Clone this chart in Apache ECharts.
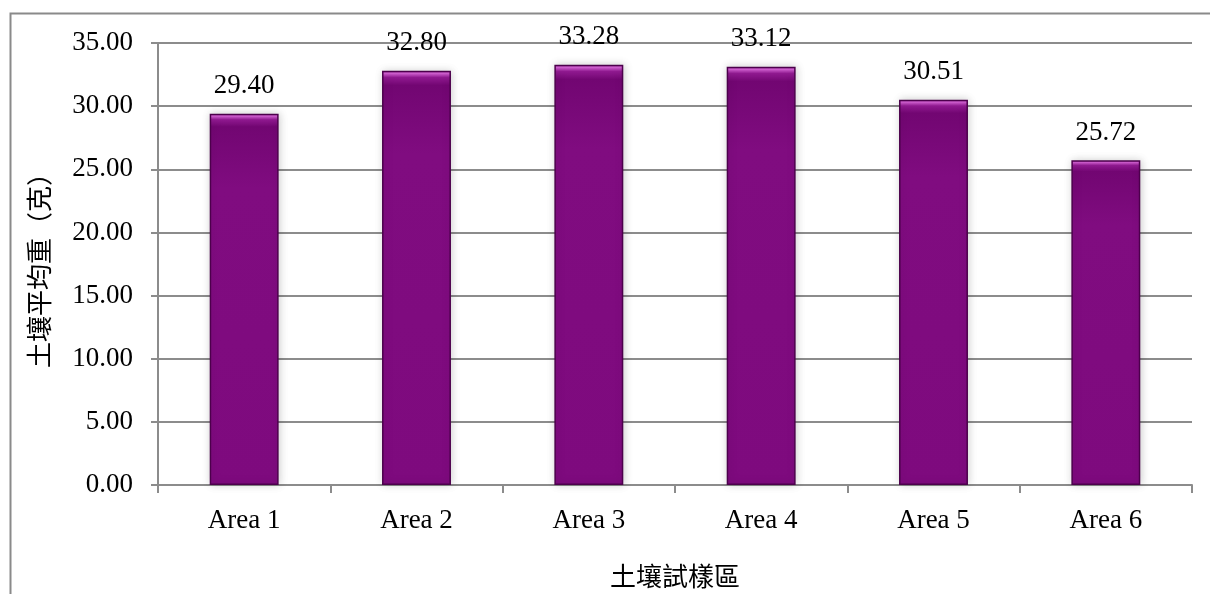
<!DOCTYPE html>
<html>
<head>
<meta charset="utf-8">
<script src="https://cdn.jsdelivr.net/npm/echarts@6/dist/echarts.min.js"></script>
<style>
  html, body { margin: 0; padding: 0; background: #fff; }
  #chart { width: 1210px; height: 594px; }
</style>
</head>
<body>
<div id="chart"></div>
<script>
// Average soil weight per sampling area
const categories = ['Area 1', 'Area 2', 'Area 3', 'Area 4', 'Area 5', 'Area 6'];
const avgWeight = [29.40, 32.80, 33.28, 33.12, 30.51, 25.72];
const yAxisTitle = '土壤平均重（克）';
const xAxisTitle = '土壤試樣區';

const latin = '"Liberation Serif", "DejaVu Serif", serif';
const cjk = '"Noto Sans CJK TC", "Noto Sans CJK SC", sans-serif';
const lineGray = '#8c8c8c';

const chart = echarts.init(document.getElementById('chart'), null, { renderer: 'canvas' });

const barFill = new echarts.graphic.LinearGradient(0, 0, 0, 1, [
  { offset: 0, color: '#a033a0' },
  { offset: 0.006, color: '#d462d4' },
  { offset: 0.016, color: '#911a91' },
  { offset: 0.035, color: '#720672' },
  { offset: 0.2, color: '#800c80' },
  { offset: 1, color: '#7e0a7e' }
]);

chart.setOption({
  animation: false,
  backgroundColor: '#fff',
  graphic: [{
    type: 'rect',
    left: 8, top: 11,
    shape: { width: 1500, height: 900 },
    style: { fill: 'none', stroke: '#8a8a8a', lineWidth: 2 },
    z: 0
  }],
  grid: { left: 158, right: 18, top: 43, bottom: 105, containLabel: false },
  xAxis: {
    type: 'category',
    data: categories,
    name: xAxisTitle,
    nameLocation: 'middle',
    nameGap: 78,
    nameTextStyle: { fontFamily: cjk, fontSize: 26, color: '#000' },
    axisLine: { lineStyle: { color: lineGray, width: 2 } },
    axisTick: { show: true, length: 8, alignWithLabel: false, lineStyle: { color: lineGray, width: 2 } },
    axisLabel: { fontFamily: latin, fontSize: 27, color: '#000', margin: 22 }
  },
  yAxis: {
    type: 'value',
    min: 0, max: 35, interval: 5,
    name: yAxisTitle,
    nameLocation: 'middle',
    nameGap: 106,
    nameRotate: 90,
    nameTextStyle: { fontFamily: cjk, fontSize: 26, color: '#000' },
    axisLine: { show: true, lineStyle: { color: lineGray, width: 2 } },
    axisTick: { show: true, length: 7, lineStyle: { color: lineGray, width: 2 } },
    axisLabel: {
      fontFamily: latin, fontSize: 27, color: '#000', margin: 25,
      formatter: v => v.toFixed(2)
    },
    splitLine: { show: true, lineStyle: { color: lineGray, width: 2 } }
  },
  series: [{
    type: 'bar',
    data: avgWeight,
    barWidth: '40%',
    itemStyle: {
      color: barFill,
      borderColor: '#4c004c',
      borderWidth: 1.5,
      shadowBlur: 8,
      shadowColor: 'rgba(0,0,0,0.18)',
      shadowOffsetX: 1,
      shadowOffsetY: 0
    },
    label: {
      show: true,
      position: 'top',
      distance: 14,
      fontFamily: latin,
      fontSize: 27,
      color: '#000',
      formatter: p => p.value.toFixed(2)
    }
  }]
});
</script>
</body>
</html>
